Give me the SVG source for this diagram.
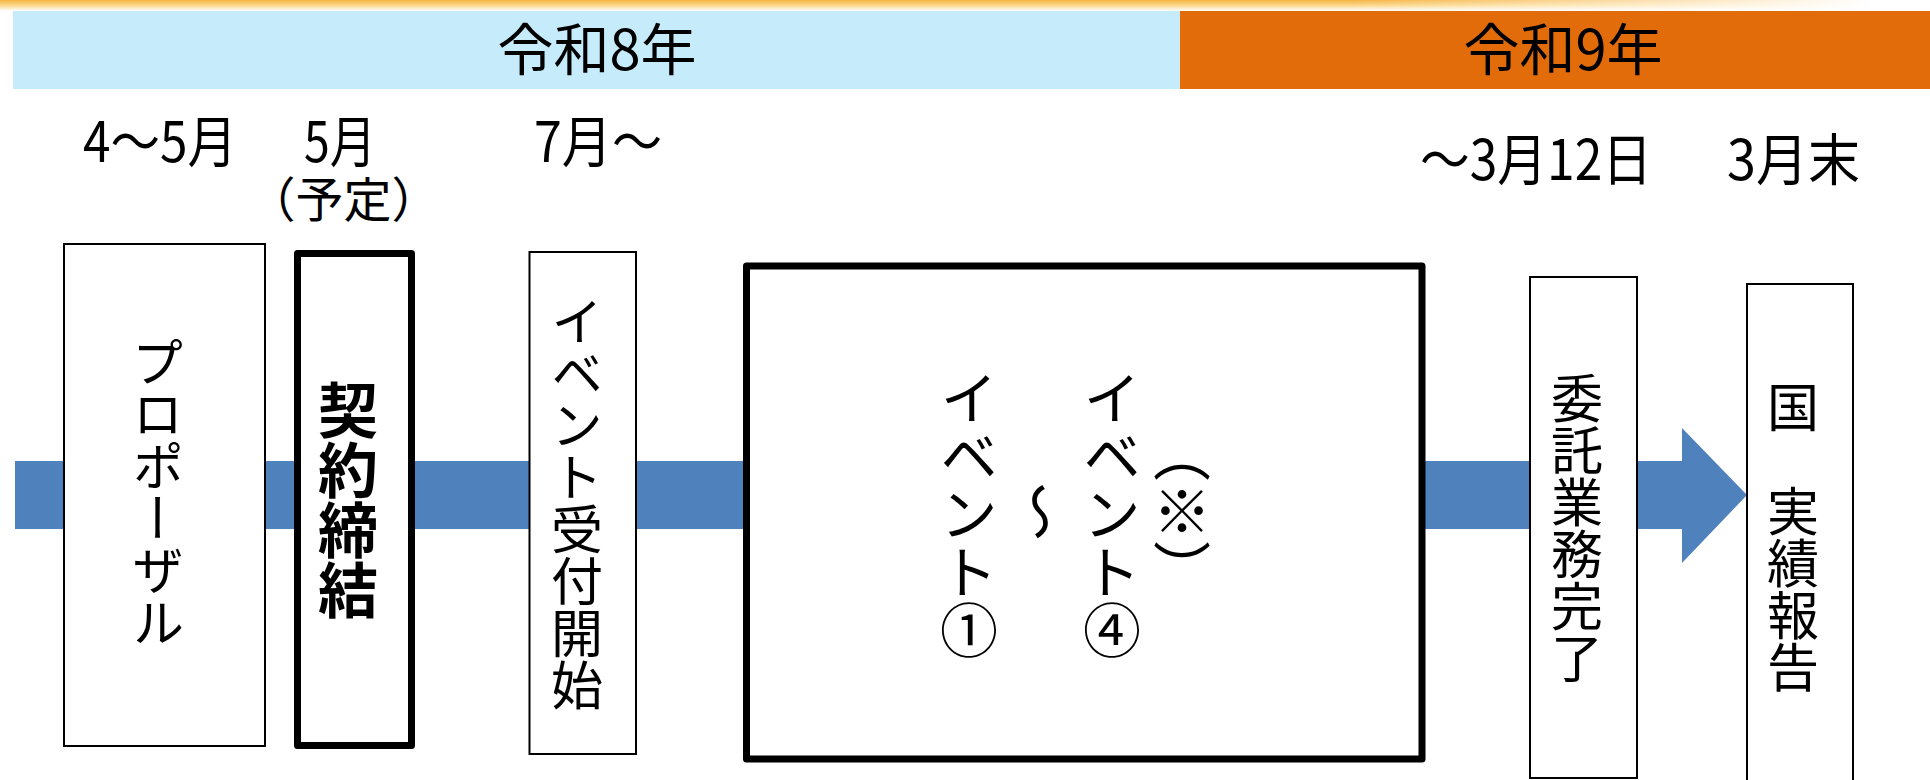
<svg xmlns="http://www.w3.org/2000/svg" width="1930" height="780" viewBox="0 0 1930 780">
<style>
text{font-family:"Noto Sans CJK JP","Noto Sans",sans-serif;fill:#000;}
.hd{font-size:56px;text-anchor:middle;}
.lb{font-size:56px;}
.box{fill:#fff;stroke:#000;stroke-width:2;}
.thick{fill:#fff;stroke:#000;stroke-width:7;stroke-linejoin:round;}
.vt{writing-mode:vertical-rl;text-anchor:middle;font-size:52px;}
.vb{writing-mode:vertical-rl;text-anchor:middle;font-size:60px;font-weight:bold;}
.ve{writing-mode:vertical-rl;text-anchor:middle;font-size:58px;}
</style>
<defs>
<linearGradient id="topg" x1="0" y1="0" x2="0" y2="1">
<stop offset="0" stop-color="#F6B443"/>
<stop offset="0.5" stop-color="#FBD98E"/>
<stop offset="1" stop-color="#FFFFFF"/>
</linearGradient>
<linearGradient id="fade" x1="0" y1="0" x2="1" y2="0">
<stop offset="0" stop-color="#fff" stop-opacity="0"/>
<stop offset="0.7" stop-color="#fff" stop-opacity="0"/>
<stop offset="0.97" stop-color="#fff" stop-opacity="1"/>
</linearGradient>
</defs>
<rect width="1930" height="780" fill="#fff"/>
<g id="header">
<rect x="0" y="0" width="1930" height="11" fill="url(#topg)"/>
<rect x="0" y="0" width="1930" height="11" fill="url(#fade)"/>
<rect x="13" y="11" width="1167" height="78" fill="#C6ECFB"/>
<rect x="1180" y="11" width="750" height="78" fill="#E36C0A"/>
<text class="hd" x="597" y="70">令和8年</text>
<text class="hd" x="1563" y="70">令和9年</text>
</g>
<g id="labels">
<text class="lb" x="83" y="162" textLength="154" lengthAdjust="spacingAndGlyphs">4〜5月</text>
<text text-anchor="middle"><tspan class="lb" x="340" y="162" textLength="72" lengthAdjust="spacingAndGlyphs">5月</tspan><tspan x="343.5" y="217" font-size="48">（予定）</tspan></text>
<text class="lb" x="534" y="162" textLength="128" lengthAdjust="spacingAndGlyphs">7月〜</text>
<text class="lb" x="1420" y="180" textLength="232" lengthAdjust="spacingAndGlyphs">〜3月12日</text>
<text class="lb" x="1727" y="180" textLength="133" lengthAdjust="spacingAndGlyphs">3月末</text>
</g>
<g id="connectors">
<polygon points="15,461 1682,461 1682,428 1747,495 1682,563 1682,529 15,529" fill="#4F81BD"/>
</g>
<g id="proposal">
<rect class="box" x="64" y="244" width="201" height="502"/>
<text class="vt" x="158" y="492">プロポーザル</text>
</g>
<g id="contract">
<rect class="thick" x="297.5" y="253.5" width="114" height="492"/>
<text class="vb" x="348" y="500">契約締結</text>
</g>
<g id="reception">
<rect class="box" x="529.5" y="252" width="106.5" height="502"/>
<text class="vt" x="577" y="503">イベント受付開始</text>
</g>
<g id="events">
<rect class="thick" x="746.5" y="266" width="675.5" height="493"/>
<text class="ve" x="969" y="514">イベント①</text>
<text class="ve" x="1040" y="512">〜</text>
<text class="ve" x="1112" y="514">イベント④</text>
<text class="ve" x="1182" y="511">（※）</text>
</g>
<g id="completion">
<rect class="box" x="1530" y="277" width="107" height="501"/>
<text class="vt" x="1577" y="528">委託業務完了</text>
</g>
<g id="report">
<rect class="box" x="1747" y="284" width="106" height="520"/>
<text class="vt" x="1793" y="537">国　実績報告</text>
</g>
</svg>
